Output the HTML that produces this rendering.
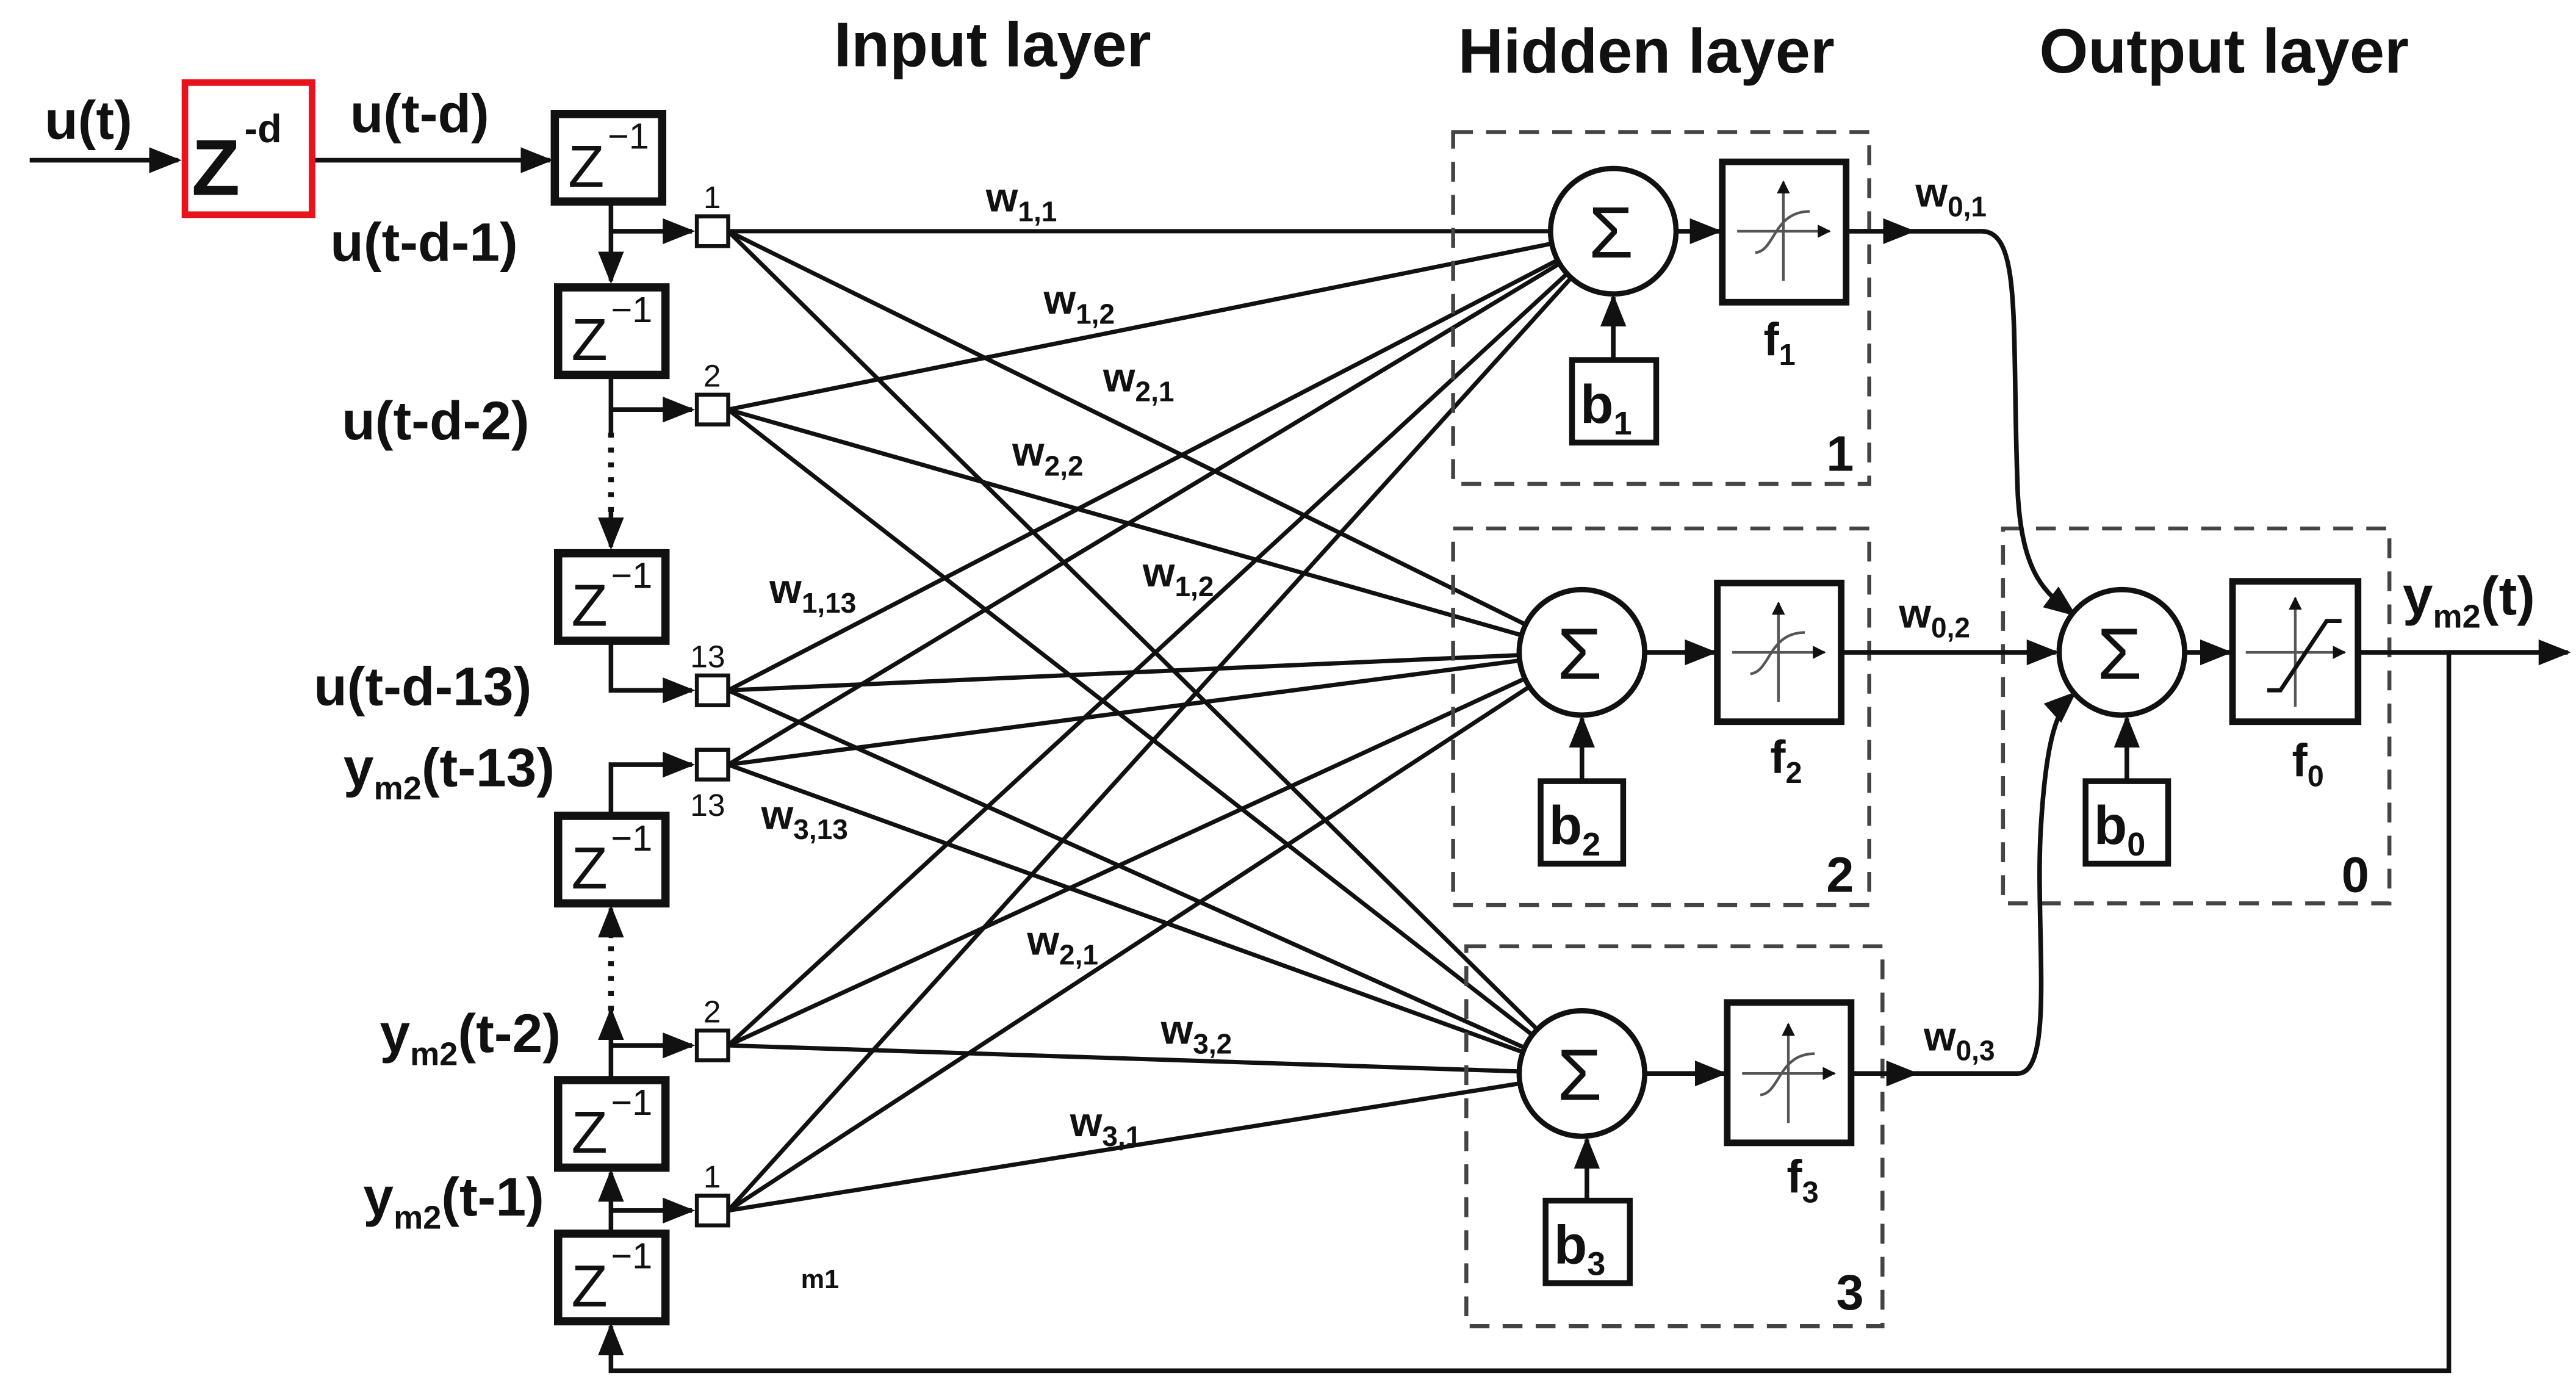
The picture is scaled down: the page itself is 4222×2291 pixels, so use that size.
<!DOCTYPE html>
<html><head><meta charset="utf-8"><style>
html,body{margin:0;padding:0;background:#fff;}
svg{display:block;}
text{font-family:"Liberation Sans",Arial,sans-serif;font-weight:bold;fill:#111;}
</style></head><body>
<svg width="4222" height="2291" viewBox="0 0 1560 846.5" xmlns="http://www.w3.org/2000/svg">
<defs>
<marker id="a" viewBox="0 0 10 10" refX="9" refY="5" markerWidth="5" markerHeight="5" orient="auto"><path d="M0,0 L10,5 L0,10 z" fill="#111"/></marker>
<marker id="s" viewBox="0 0 10 10" refX="9" refY="5" markerWidth="7" markerHeight="7" orient="auto"><path d="M0,1 L10,5 L0,9 z" fill="#111"/></marker>
</defs>
<rect width="1560" height="846.5" fill="#fff"/>

<!-- titles -->
<text x="505" y="40" font-size="38">Input layer</text>
<text x="883" y="44" font-size="38">Hidden layer</text>
<text x="1235" y="44" font-size="38">Output layer</text>

<!-- connections -->
<g stroke="#111" stroke-width="2.6" fill="none">
<line x1="441" y1="140" x2="977" y2="140"/><line x1="441" y1="140" x2="958" y2="395"/><line x1="441" y1="140" x2="958" y2="650"/>
<line x1="441" y1="248" x2="977" y2="140"/><line x1="441" y1="248" x2="958" y2="395"/><line x1="441" y1="248" x2="958" y2="650"/>
<line x1="441" y1="418" x2="977" y2="140"/><line x1="441" y1="418" x2="958" y2="395"/><line x1="441" y1="418" x2="958" y2="650"/>
<line x1="441" y1="463" x2="977" y2="140"/><line x1="441" y1="463" x2="958" y2="395"/><line x1="441" y1="463" x2="958" y2="650"/>
<line x1="441" y1="633" x2="977" y2="140"/><line x1="441" y1="633" x2="958" y2="395"/><line x1="441" y1="633" x2="958" y2="650"/>
<line x1="441" y1="733" x2="977" y2="140"/><line x1="441" y1="733" x2="958" y2="395"/><line x1="441" y1="733" x2="958" y2="650"/>
</g>

<!-- dashed boxes -->
<g stroke="#444" stroke-width="2.4" fill="none" stroke-dasharray="12,8">
<rect x="880" y="80" width="252" height="213"/>
<rect x="880" y="320" width="252" height="228"/>
<rect x="888" y="573" width="252" height="230"/>
<rect x="1213" y="320" width="234" height="227"/>
</g>

<!-- left chain -->
<g stroke="#111" stroke-width="2.8" fill="none">
<line x1="18" y1="97" x2="108" y2="97" marker-end="url(#s)"/>
<line x1="190" y1="97" x2="333" y2="97" marker-end="url(#s)"/>
<polyline points="370,123 370,170" marker-end="url(#s)"/>
<line x1="370" y1="140" x2="419" y2="140" marker-end="url(#s)"/>
<line x1="370" y1="228" x2="370" y2="262"/>
<line x1="370" y1="248" x2="419" y2="248" marker-end="url(#s)"/>
<line x1="370" y1="262" x2="370" y2="310" stroke-dasharray="3,6" stroke-width="3.5"/>
<line x1="370" y1="310" x2="370" y2="331" marker-end="url(#s)"/>
<polyline points="370,389 370,418 419,418" marker-end="url(#s)"/>
<polyline points="370,492 370,463 419,463" marker-end="url(#s)"/>
<line x1="370" y1="652" x2="370" y2="612" marker-end="url(#s)"/>
<line x1="370" y1="612" x2="370" y2="568" stroke-dasharray="3,6" stroke-width="3.5"/>
<line x1="370" y1="568" x2="370" y2="550" marker-end="url(#s)"/>
<line x1="370" y1="633" x2="419" y2="633" marker-end="url(#s)"/>
<line x1="370" y1="745" x2="370" y2="710" marker-end="url(#s)"/>
<line x1="370" y1="733" x2="419" y2="733" marker-end="url(#s)"/>
<polyline points="1483,395 1483,830 370,830 370,803" marker-end="url(#s)"/>
</g>
<rect x="112" y="50" width="77" height="80" fill="#fff" stroke="#e8141c" stroke-width="4"/>
<text x="116" y="118" font-size="48">Z</text>
<text x="148" y="86" font-size="24">-d</text>
<g stroke="#111" stroke-width="5" fill="#fff">
<rect x="336" y="69" width="65" height="53"/>
<rect x="338" y="174" width="65" height="53"/>
<rect x="338" y="335" width="65" height="53"/>
<rect x="338" y="494" width="65" height="53"/>
<rect x="338" y="654" width="65" height="53"/>
<rect x="338" y="747" width="65" height="53"/>
</g>
<g>
<text x="344" y="113" font-size="36" style="font-weight:normal">Z</text><text x="368" y="90" font-size="22" style="font-weight:normal">−1</text>
<text x="346" y="218" font-size="36" style="font-weight:normal">Z</text><text x="370" y="195" font-size="22" style="font-weight:normal">−1</text>
<text x="346" y="379" font-size="36" style="font-weight:normal">Z</text><text x="370" y="356" font-size="22" style="font-weight:normal">−1</text>
<text x="346" y="538" font-size="36" style="font-weight:normal">Z</text><text x="370" y="515" font-size="22" style="font-weight:normal">−1</text>
<text x="346" y="698" font-size="36" style="font-weight:normal">Z</text><text x="370" y="675" font-size="22" style="font-weight:normal">−1</text>
<text x="346" y="791" font-size="36" style="font-weight:normal">Z</text><text x="370" y="768" font-size="22" style="font-weight:normal">−1</text>
</g>
<!-- input squares -->
<g stroke="#111" stroke-width="2.4" fill="#fff">
<rect x="422" y="131" width="19" height="18"/><rect x="422" y="239" width="19" height="18"/>
<rect x="422" y="409" width="19" height="18"/><rect x="422" y="454" width="19" height="18"/>
<rect x="422" y="624" width="19" height="18"/><rect x="422" y="724" width="19" height="18"/>
</g>
<g font-size="19">
<text x="426" y="126" style="font-weight:normal">1</text><text x="426" y="234" style="font-weight:normal">2</text>
<text x="418" y="404" style="font-weight:normal">13</text><text x="418" y="494" style="font-weight:normal">13</text>
<text x="426" y="619" style="font-weight:normal">2</text><text x="426" y="719" style="font-weight:normal">1</text>
</g>
<!-- left labels -->
<g font-size="33">
<text x="27" y="84">u(t)</text>
<text x="212" y="80">u(t-d)</text>
<text x="200" y="158">u(t-d-1)</text>
<text x="207" y="266">u(t-d-2)</text>
<text x="190" y="427">u(t-d-13)</text>
<text x="208" y="476">y<tspan font-size="20" dy="8">m2</tspan><tspan dy="-8">(t-13)</tspan></text>
<text x="230" y="637">y<tspan font-size="20" dy="8">m2</tspan><tspan dy="-8">(t-2)</tspan></text>
<text x="220" y="736">y<tspan font-size="20" dy="8">m2</tspan><tspan dy="-8">(t-1)</tspan></text>
</g>
<!-- weight labels -->
<g font-size="25">
<text x="597" y="128">w<tspan font-size="17" dy="6">1,1</tspan></text>
<text x="632" y="190">w<tspan font-size="17" dy="6">1,2</tspan></text>
<text x="668" y="237">w<tspan font-size="17" dy="6">2,1</tspan></text>
<text x="613" y="282">w<tspan font-size="17" dy="6">2,2</tspan></text>
<text x="692" y="355">w<tspan font-size="17" dy="6">1,2</tspan></text>
<text x="466" y="365">w<tspan font-size="17" dy="6">1,13</tspan></text>
<text x="461" y="502">w<tspan font-size="17" dy="6">3,13</tspan></text>
<text x="622" y="578">w<tspan font-size="17" dy="6">2,1</tspan></text>
<text x="703" y="632">w<tspan font-size="17" dy="6">3,2</tspan></text>
<text x="648" y="688">w<tspan font-size="17" dy="6">3,1</tspan></text>
<text x="485" y="780" font-size="16">m1</text>
<text x="1160" y="125">w<tspan font-size="17" dy="6">0,1</tspan></text>
<text x="1150" y="380">w<tspan font-size="17" dy="6">0,2</tspan></text>
<text x="1165" y="636">w<tspan font-size="17" dy="6">0,3</tspan></text>
</g>
<text x="1455" y="372" font-size="33">y<tspan font-size="20" dy="8">m2</tspan><tspan dy="-8">(t)</tspan></text>

<!-- neuron internals connections -->
<g stroke="#111" stroke-width="2.8" fill="none">
<line x1="1015" y1="140" x2="1041" y2="140" marker-end="url(#s)"/>
<line x1="996" y1="395" x2="1038" y2="395" marker-end="url(#s)"/>
<line x1="996" y1="650" x2="1044" y2="650" marker-end="url(#s)"/>
<line x1="1323" y1="395" x2="1350" y2="395" marker-end="url(#s)"/>
<line x1="977" y1="218" x2="977" y2="180" marker-end="url(#s)"/>
<line x1="958" y1="473" x2="958" y2="435" marker-end="url(#s)"/>
<line x1="961" y1="727" x2="961" y2="690" marker-end="url(#s)"/>
<line x1="1288" y1="473" x2="1288" y2="435" marker-end="url(#s)"/>
<line x1="1118" y1="140" x2="1158" y2="140" marker-end="url(#s)"/>
<path d="M1158,140 L1200,140 C1225,140 1218,200 1222,300 C1225,350 1240,360 1256,372" marker-end="url(#s)"/>
<line x1="1115" y1="395" x2="1245" y2="395" marker-end="url(#s)"/>
<line x1="1121" y1="650" x2="1160" y2="650" marker-end="url(#s)"/>
<path d="M1160,650 L1222,650 C1245,650 1232,560 1236,500 C1239,450 1245,430 1256,420" marker-end="url(#s)"/>
<line x1="1428" y1="395" x2="1555" y2="395" marker-end="url(#s)"/>
</g>
<!-- circles -->
<g stroke="#111" stroke-width="3.2" fill="#fff">
<circle cx="977" cy="140" r="38"/><circle cx="958" cy="395" r="38"/><circle cx="958" cy="650" r="38"/><circle cx="1285" cy="395" r="38"/>
</g>
<g font-size="44">
<text x="962" y="156" style="font-weight:normal">Σ</text><text x="943" y="411" style="font-weight:normal">Σ</text>
<text x="943" y="666" style="font-weight:normal">Σ</text><text x="1270" y="411" style="font-weight:normal">Σ</text>
</g>
<!-- f boxes -->
<g stroke="#111" stroke-width="4" fill="#fff">
<rect x="1043" y="98" width="75" height="85"/><rect x="1040" y="353" width="75" height="84"/>
<rect x="1046" y="607" width="75" height="85"/><rect x="1352" y="352" width="76" height="85"/>
</g>
<g stroke="#555" stroke-width="1.6" fill="none">
<line x1="1052" y1="140" x2="1108" y2="140" marker-end="url(#a)"/><line x1="1080" y1="170" x2="1080" y2="110" marker-end="url(#a)"/>
<path d="M1063,153 C1075,152 1074,128 1096,128"/>
<line x1="1049" y1="395" x2="1105" y2="395" marker-end="url(#a)"/><line x1="1077" y1="425" x2="1077" y2="365" marker-end="url(#a)"/>
<path d="M1060,408 C1072,407 1071,383 1093,383"/>
<line x1="1055" y1="650" x2="1111" y2="650" marker-end="url(#a)"/><line x1="1083" y1="680" x2="1083" y2="620" marker-end="url(#a)"/>
<path d="M1066,663 C1078,662 1077,638 1099,638"/>
<line x1="1360" y1="395" x2="1420" y2="395" marker-end="url(#a)"/><line x1="1390" y1="428" x2="1390" y2="362" marker-end="url(#a)"/>
</g>
<polyline points="1373,418 1381,418 1409,376 1418,376" stroke="#111" stroke-width="2.5" fill="none"/>
<g font-size="28">
<text x="1068" y="215">f<tspan font-size="18" dy="6">1</tspan></text>
<text x="1072" y="468">f<tspan font-size="18" dy="6">2</tspan></text>
<text x="1082" y="722">f<tspan font-size="18" dy="6">3</tspan></text>
<text x="1388" y="470">f<tspan font-size="18" dy="6">0</tspan></text>
</g>
<!-- bias boxes -->
<g stroke="#111" stroke-width="3.5" fill="#fff">
<rect x="952" y="218" width="51" height="50"/><rect x="933" y="473" width="50" height="50"/>
<rect x="936" y="727" width="51" height="50"/><rect x="1263" y="473" width="50" height="50"/>
</g>
<g font-size="33">
<text x="957" y="256">b<tspan font-size="20" dy="7">1</tspan></text>
<text x="938" y="511">b<tspan font-size="20" dy="7">2</tspan></text>
<text x="941" y="765">b<tspan font-size="20" dy="7">3</tspan></text>
<text x="1268" y="511">b<tspan font-size="20" dy="7">0</tspan></text>
</g>
<g font-size="30">
<text x="1106" y="285">1</text><text x="1106" y="540">2</text><text x="1112" y="793">3</text><text x="1418" y="540">0</text>
</g>
</svg>
</body></html>
